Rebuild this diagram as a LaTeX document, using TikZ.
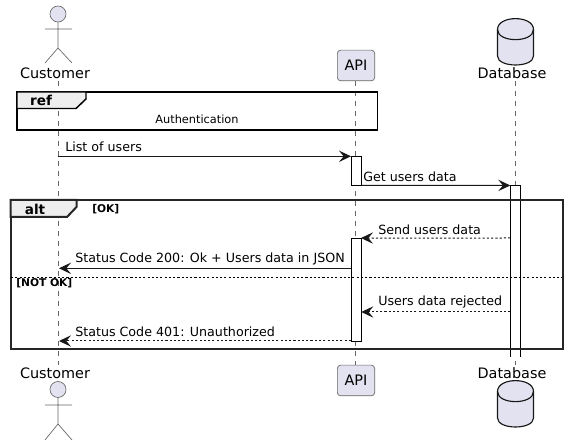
\documentclass[tikz,border=0pt]{standalone}
\usepackage{fontspec}
\setmainfont{DejaVu Sans}
\usetikzlibrary{arrows.meta,shapes.geometric}
\definecolor{partfill}{HTML}{E2E2F0}
\definecolor{tabfill}{HTML}{EEEEEE}
\definecolor{partline}{HTML}{181818}
\definecolor{lifeline}{HTML}{666666}
\tikzset{
  partname/.style={font=\fontsize{10.8pt}{12pt}\selectfont, inner sep=0pt},
  msg/.style={font=\fontsize{9.5pt}{11pt}\selectfont, inner sep=0pt, anchor=west},
  guard/.style={font=\fontsize{8pt}{10pt}\selectfont\bfseries, inner sep=0pt, anchor=west},
  tabtext/.style={font=\fontsize{10.2pt}{12pt}\selectfont\bfseries, inner sep=0pt},
  life/.style={draw=lifeline, line width=0.45pt, dash pattern=on 3.75pt off 3.75pt},
  call/.style={draw=partline, line width=0.75pt, -{Stealth[length=9pt,width=8.5pt,inset=3.5pt]}},
  reply/.style={call, dash pattern=on 1.6pt off 1.6pt},
  activation/.style={draw=black, fill=white, line width=0.75pt, minimum width=7.5pt, inner sep=0pt, outer sep=0pt},
  apibox/.style={draw=lifeline, fill=partfill, rounded corners=2.5pt, line width=0.5pt, minimum width=28pt, minimum height=23pt, inner sep=0pt, font=\fontsize{10.8pt}{12pt}\selectfont},
  actor/.style={draw=lifeline, line width=0.5pt},
  dbline/.style={draw=partline, fill=partfill, line width=0.85pt},
  frameline/.style={draw=black, line width=1.1pt},
  altline/.style={draw=black!85, line width=1.5pt},
  tabshade/.style={fill=tabfill},
}
\begin{document}
\begin{tikzpicture}[x=0.75pt,y=-0.75pt]
\useasboundingbox (0,0) rectangle (568,445);
% lifelines
\coordinate (cust1) at (58,81);
\coordinate (cust2) at (58,365);
\coordinate (api1) at (355,81);
\coordinate (api2) at (355,365);
\coordinate (db1) at (515.5,81);
\coordinate (db2) at (515.5,365);
\path [life] (cust1) -- (cust2);
\path [life] (api1) -- (api2);
\path [life] (db1) -- (db2);
% participants, top
\draw [actor, fill=partfill] (58,14) circle (8);
\draw [actor] (58,22) -- (58,48) (45,29) -- (72,29) (45,63) -- (58,48) -- (72,63);
\node [partname] (customertop) at (55,73) {Customer};
\node [apibox] (apitop) at (356,65.5) {API};
\path [dbline] (497.5,29.5) -- (497.5,56) .. controls (497.5,68) and (533.5,68) .. (533.5,56) -- (533.5,29.5) .. controls (533.5,15) and (497.5,15) .. (497.5,29.5) -- cycle;
\draw [partline, line width=0.85pt] (497.5,29.5) .. controls (497.5,43) and (533.5,43) .. (533.5,29.5);
\node [partname] (databasetop) at (512,73) {Database};
% participants, bottom
\node [partname] (customerbottom) at (55,373) {Customer};
\draw [actor, fill=partfill] (58,389.5) circle (8);
\draw [actor] (58,397.5) -- (58,424) (45,405) -- (72,405) (45,440) -- (58,424) -- (72,440);
\node [apibox] (apibottom) at (356,380.5) {API};
\node [partname] (databasebottom) at (512,373) {Database};
\path [dbline] (497.5,391.5) -- (497.5,418) .. controls (497.5,430) and (533.5,430) .. (533.5,418) -- (533.5,391.5) .. controls (533.5,377) and (497.5,377) .. (497.5,391.5) -- cycle;
\draw [partline, line width=0.85pt] (497.5,391.5) .. controls (497.5,405) and (533.5,405) .. (533.5,391.5);
% ref frame
\draw [frameline] (17,92) rectangle (377.5,130);
\draw [frameline, tabshade] (17,92) -- (86,92) -- (86,99) -- (76,108.5) -- (17,108.5) -- cycle;
\node [tabtext] (reflabel) at (41,100.5) {ref};
\node [font=\fontsize{8.5pt}{10pt}\selectfont, inner sep=0pt] (authlabel) at (197,119) {Authentication};
% activations
\node [activation, minimum height=21.9pt] (act1) at (356,170.9) {};
\node [activation, minimum height=77.5pt] (act2) at (356,289.7) {};
\node [activation, draw=none, minimum height=128.5pt] (act3) at (515.3,271.1) {};
\draw [black, line width=0.75pt] (act3.south west) -- (act3.north west) -- (act3.north east) -- (act3.south east);
% messages
\coordinate (m1) at (58,156.3);
\coordinate (m3) at (510.3,238);
\coordinate (m4a) at (351,268.3);
\coordinate (m4b) at (59,268.3);
\coordinate (m5) at (510.3,312);
\coordinate (m5b) at (361.3,312);
\coordinate (m6a) at (351,341);
\coordinate (m6b) at (59,341);
\draw [call] (m1) -- (act1.north west);
\node [msg] (m1label) at (65,146.5) {List of users};
\draw [call] (act1.south east) -- (act3.north west);
\node [msg] (m2label) at (363,176.5) {Get users data};
\draw [reply] (m3) -- (act2.north east);
\node [msg] (m3label) at (378,229.5) {Send users data};
\draw [call] (m4a) -- (m4b);
\node [msg] (m4label) at (75,258.5) {Status Code 200: Ok + Users data in JSON};
\draw [reply] (m5) -- (m5b);
\node [msg] (m5label) at (378,302.5) {Users data rejected};
\draw [reply] (m6a) -- (m6b);
\node [msg] (m6label) at (75,331.5) {Status Code 401: Unauthorized};
% alt frame
\draw [altline] (10.5,200) rectangle (562.5,349);
\draw [altline, tabshade] (10.5,200) -- (76.5,200) -- (76.5,207) -- (67,217) -- (10.5,217) -- cycle;
\node [tabtext] (altlabel) at (35,209) {alt};
\node [guard] (oklabel) at (92,209) {[OK]};
\draw [black, line width=0.6pt, dash pattern=on 1.6pt off 1.6pt] (11,277.3) -- (562,277.3);
\node [guard] (notoklabel) at (16,283.5) {[NOT OK]};
\end{tikzpicture}
\end{document}
